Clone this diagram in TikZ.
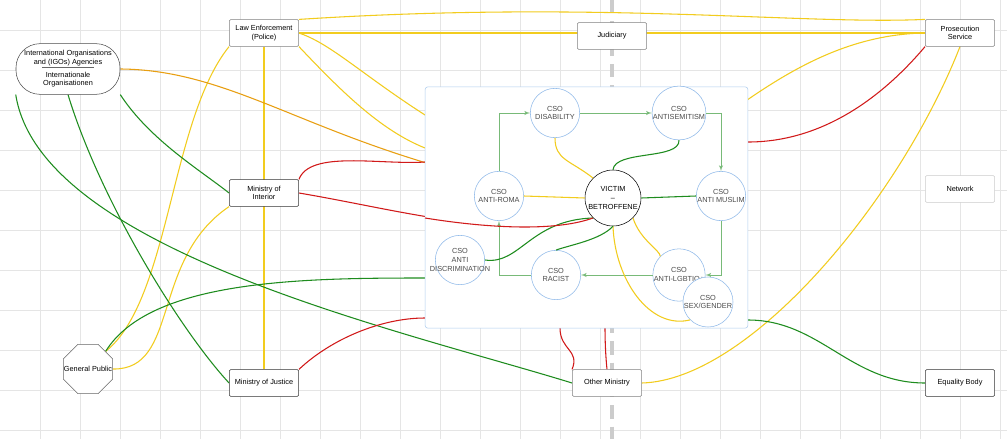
\documentclass[tikz,border=0pt]{standalone}
\usepackage{fontspec}
\setmainfont{Liberation Sans}
\usetikzlibrary{shapes,arrows}
\definecolor{ylw}{HTML}{F2CC1E}
\definecolor{org}{HTML}{E89F12}
\definecolor{grn}{HTML}{1E8C1E}
\definecolor{rd}{HTML}{D11A1A}
\definecolor{csoblue}{HTML}{8DB8E8}
\tikzstyle{actor} = [draw=black!50, rectangle, fill=white, text centered, align=center, minimum width=52pt, minimum height=20pt, font=\fontsize{5.5}{6.5}\selectfont, rounded corners=1pt]
\tikzstyle{cso} = [draw=csoblue, circle, fill=white, align=center, minimum size=37pt, inner sep=0pt, font=\fontsize{5.5}{6.5}\selectfont, text=black!70]
\tikzstyle{yline} = [draw=ylw, line width=0.8pt]
\tikzstyle{oline} = [draw=org, line width=0.8pt]
\tikzstyle{gline} = [draw=grn, line width=0.8pt]
\tikzstyle{rline} = [draw=rd, line width=0.8pt]
\tikzstyle{flow} = [draw=grn!60, line width=0.5pt, -latex']
\pgfdeclarelayer{background}
\pgfsetlayers{background,main}

\begin{document}
\begin{tikzpicture}[x=0.75pt, y=-0.75pt]
    \useasboundingbox (0,0) rectangle (1007,439);
    % Grid and divider
    \begin{pgfonlayer}{background}
        \fill[white] (0,0) rectangle (1007,439);
        \foreach \gx in {40,80,...,1000} \draw[black!10, line width=0.4pt] (\gx,0) -- (\gx,439);
        \foreach \gy in {30,70,...,430} \draw[black!10, line width=0.4pt] (0,\gy) -- (1007,\gy);
        \draw[black!20, line width=2.5pt, dash pattern=on 10pt off 6pt] (612,0) -- (612,439);
    \end{pgfonlayer}
    % Panel
    \node[draw=csoblue!70, fill=white, rounded corners=2pt, minimum width=242pt, minimum height=181pt, inner sep=0pt] (panel) at (586.5,207.5) {};
    % Place nodes
    \node[actor] (police) at (264,33) {Law Enforcement\\(Police)};
    \node[actor] (judiciary) at (612,36) {Judiciary};
    \node[actor] (prosecution) at (960,33) {Prosecution\\Service};
    \node[actor, draw=black!20] (network) at (960,189) {Network};
    \node[actor, draw=black!80] (interior) at (264,193) {Ministry of\\Interior};
    \node[actor, draw=black!80] (justice) at (264,383) {Ministry of Justice};
    \node[actor] (otherministry) at (607,383) {Other Ministry};
    \node[actor, draw=black!80] (equality) at (960,383) {Equality Body};
    \node[actor, draw=black!70, rounded corners=18pt, minimum width=78pt, minimum height=38pt] (igo) at (68,69)
        {International Organisations\\and (IGOs) Agencies\\[3pt]Internationale\\Organisationen};
    \draw[black!60, line width=0.3pt] (42,67) -- (94,67);
    \node[draw=black!60, fill=white, regular polygon, regular polygon sides=8, minimum size=40pt, inner sep=0pt, font=\fontsize{5.5}{6.5}\selectfont] (public) at (88,369) {\makebox[0pt]{General Public}};
    % CSO circles
    \node[cso] (disability) at (555,113) {CSO\\DISABILITY};
    \node[cso] (antisemitism) at (679,113) {CSO\\ANTISEMITISM};
    \node[cso] (roma) at (499,196) {CSO\\ANTI-ROMA};
    \node[cso] (muslim) at (721,196) {CSO\\ANTI MUSLIM};
    \node[cso] (discrimination) at (460,260) {CSO\\ANTI\\\makebox[0pt]{DISCRIMINATION}};
    \node[cso] (racist) at (556,275) {CSO\\RACIST};
    \node[cso] (lgbtiq) at (679,275) {CSO\\ANTI-LGBTIQ+};
    \node[cso] (sexgender) at (708,302) {CSO\\SEX/GENDER};
    \node[cso, draw=black, minimum size=42pt, text=black] (victim) at (613,198) {VICTIM\\--\\BETROFFENE};
    % Flow arrows inside panel
    \path[flow] (roma.north) |- (disability.west);
    \path[flow] (disability.east) -- (antisemitism.west);
    \path[flow] (antisemitism.east) -| (muslim.north);
    \path[flow] (muslim.south) |- (lgbtiq.east);
    \path[flow] (lgbtiq.west) -- (racist.east);
    \path[flow] (racist.west) -| (roma.south);
    % Yellow edges
    \begin{pgfonlayer}{background}
        \path[yline] (police.north east) .. controls (600,0) and (800,25) .. (prosecution.north west);
        \path[yline] (police.east) -- (prosecution.west);
        \path[yline] (police.south) -- (justice.north);
        \path[yline] (police.east) .. controls (350,50) and (400,120) .. (victim.west);
        \path[yline] (police.south east) .. controls (340,90) and (380,130) .. (425,148);
        \path[yline] (police.south west) .. controls (170,120) and (170,300) .. (public.north east);
        \path[yline] (interior.south west) .. controls (150,260) and (180,370) .. (public.east);
        \path[yline] (prosecution.west) .. controls (800,35) and (720,130) .. (victim.north east);
        \path[yline] (prosecution.south) .. controls (900,200) and (750,380) .. (otherministry.east);
        \path[oline] (igo.east) .. controls (250,70) and (330,160) .. (victim.west);
        % Green edges
        \path[gline] (igo.south east) .. controls (150,140) and (200,170) .. (interior.west);
        \path[gline] (igo.south) .. controls (100,200) and (180,330) .. (justice.west);
        \path[gline] (igo.south west) .. controls (40,250) and (400,330) .. (otherministry.west);
        \path[gline] (public.north east) .. controls (150,280) and (300,278) .. (425,278);
        \path[gline] (748,320) .. controls (820,320) and (850,383) .. (equality.west);
        % Red edges
        \path[rline] (interior.north east) .. controls (310,150) and (380,165) .. (425,162);
        \path[rline] (interior.east) .. controls (400,210) and (500,240) .. (victim.south west);
        \path[rline] (prosecution.south west) .. controls (880,100) and (820,142) .. (748,142);
        \path[rline] (justice.north east) .. controls (330,340) and (380,318) .. (425,318);
        \path[rline] (560,328) .. controls (560,350) and (580,350) .. (otherministry.north west);
        \path[rline] (victim.south) .. controls (605,280) and (603,330) .. (otherministry.north);
    \end{pgfonlayer}
    % Edges from the victim
    \path[yline] (victim.north west) .. controls (570,160) and (555,160) .. (disability.south);
    \path[yline] (victim.west) -- (roma.east);
    \path[yline] (victim.south east) .. controls (640,240) and (660,250) .. (lgbtiq.north west);
    \path[yline] (victim.south) .. controls (615,280) and (650,330) .. (sexgender.south west);
    \path[gline] (victim.north) .. controls (615,150) and (680,160) .. (antisemitism.south);
    \path[gline] (victim.east) -- (muslim.west);
    \path[gline] (victim.south west) .. controls (530,220) and (520,265) .. (discrimination.east);
    \path[gline] (victim.south) .. controls (600,240) and (570,245) .. (racist.north);
    \path[rline] (victim.south west) .. controls (560,230) and (500,230) .. (425,218);
\end{tikzpicture}
\end{document}
